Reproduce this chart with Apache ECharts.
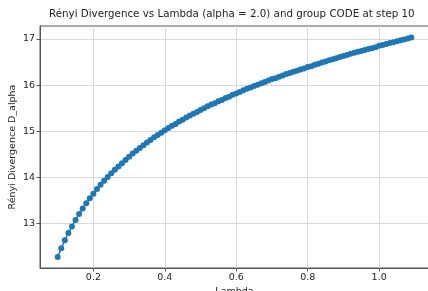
<!DOCTYPE html>
<html>
<head>
    <meta charset="utf-8">
    <script src="https://cdn.jsdelivr.net/npm/echarts@6/dist/echarts.min.js"></script>
    <style>
        body { margin: 0; background: #fff; }
        #main { width: 428px; height: 291px; }
    </style>
</head>
<body>
    <div id="main"></div>
    <script type="text/javascript">
        var lambdas = [0.10, 0.11, 0.12, 0.13, 0.14, 0.15, 0.16, 0.17, 0.18, 0.19,
            0.20, 0.21, 0.22, 0.23, 0.24, 0.25, 0.26, 0.27, 0.28, 0.29,
            0.30, 0.31, 0.32, 0.33, 0.34, 0.35, 0.36, 0.37, 0.38, 0.39,
            0.40, 0.41, 0.42, 0.43, 0.44, 0.45, 0.46, 0.47, 0.48, 0.49,
            0.50, 0.51, 0.52, 0.53, 0.54, 0.55, 0.56, 0.57, 0.58, 0.59,
            0.60, 0.61, 0.62, 0.63, 0.64, 0.65, 0.66, 0.67, 0.68, 0.69,
            0.70, 0.71, 0.72, 0.73, 0.74, 0.75, 0.76, 0.77, 0.78, 0.79,
            0.80, 0.81, 0.82, 0.83, 0.84, 0.85, 0.86, 0.87, 0.88, 0.89,
            0.90, 0.91, 0.92, 0.93, 0.94, 0.95, 0.96, 0.97, 0.98, 0.99,
            1.00, 1.01, 1.02, 1.03, 1.04, 1.05, 1.06, 1.07, 1.08, 1.09];

        var divergence = [12.28, 12.47, 12.64, 12.80, 12.94, 13.08, 13.21, 13.33, 13.44, 13.55,
            13.65, 13.75, 13.84, 13.93, 14.01, 14.09, 14.17, 14.24, 14.31, 14.38,
            14.45, 14.52, 14.58, 14.64, 14.70, 14.76, 14.81, 14.87, 14.92, 14.97,
            15.02, 15.07, 15.12, 15.16, 15.21, 15.25, 15.30, 15.34, 15.38, 15.42,
            15.46, 15.50, 15.54, 15.58, 15.61, 15.65, 15.68, 15.72, 15.75, 15.79,
            15.82, 15.85, 15.89, 15.92, 15.95, 15.98, 16.01, 16.04, 16.07, 16.10,
            16.13, 16.15, 16.18, 16.21, 16.24, 16.26, 16.29, 16.31, 16.34, 16.36,
            16.39, 16.41, 16.44, 16.46, 16.49, 16.51, 16.54, 16.56, 16.58, 16.61,
            16.63, 16.65, 16.68, 16.70, 16.72, 16.74, 16.76, 16.78, 16.80, 16.82,
            16.85, 16.87, 16.89, 16.91, 16.93, 16.95, 16.97, 16.99, 17.01, 17.03];

        var xTicks = [0.2, 0.4, 0.6, 0.8, 1.0];
        var yTicks = [13, 14, 15, 16, 17];

        var points = lambdas.map(function (l, i) { return [l, divergence[i]]; });

        var myChart = echarts.init(document.getElementById('main'), null, { renderer: 'canvas' });
        var font = 'DejaVu Sans';

        myChart.setOption({
            animation: false,
            title: {
                text: 'Rényi Divergence vs Lambda (alpha = 2.0) and group CODE at step 10',
                left: 49,
                top: 9,
                padding: 0,
                textStyle: { fontFamily: font, fontSize: 10.3, fontWeight: 'normal', color: '#222' }
            },
            grid: {
                left: 40, right: -1, top: 26, bottom: 23,
                outerBoundsMode: 'none',
                show: true, borderColor: '#555', borderWidth: 1
            },
            xAxis: {
                type: 'value',
                min: 0.0505,
                max: 1.1395,
                name: 'Lambda',
                nameLocation: 'middle',
                nameGap: 19,
                nameMoveOverlap: false,
                nameTextStyle: { fontFamily: font, fontSize: 9.5, color: '#222' },
                axisLine: { show: true, onZero: false, lineStyle: { color: '#555', width: 1 } },
                axisTick: { show: true, length: 3.5, customValues: xTicks, lineStyle: { color: '#555' } },
                axisLabel: {
                    customValues: xTicks, fontFamily: font, fontSize: 9.5, color: '#222', margin: 5,
                    formatter: function (v) { return v.toFixed(1); }
                },
                splitLine: { show: true, lineStyle: { color: '#d8d8d8', width: 1 } }
            },
            yAxis: {
                type: 'value',
                min: 12.04,
                max: 17.28,
                name: 'Rényi Divergence D_alpha',
                nameLocation: 'middle',
                nameGap: 22,
                nameMoveOverlap: false,
                nameTextStyle: { fontFamily: font, fontSize: 9.5, color: '#222' },
                axisLine: { show: true, lineStyle: { color: '#555', width: 1 } },
                axisTick: { show: true, length: 3.5, customValues: yTicks, lineStyle: { color: '#555' } },
                axisLabel: { customValues: yTicks, fontFamily: font, fontSize: 9.5, color: '#222', margin: 5 },
                splitLine: { show: true, lineStyle: { color: '#d8d8d8', width: 1 } }
            },
            series: [{
                type: 'line',
                data: points,
                symbol: 'circle',
                symbolSize: 6,
                showAllSymbol: true,
                lineStyle: { color: '#1f77b4', width: 1.5 },
                itemStyle: { color: '#1f77b4' }
            }]
        });
    </script>
</body>
</html>
